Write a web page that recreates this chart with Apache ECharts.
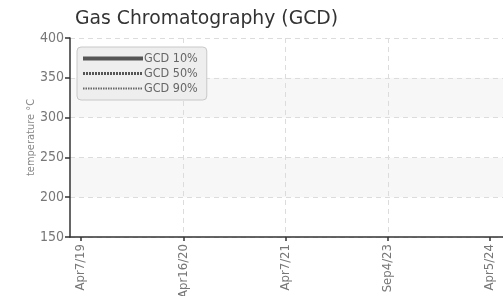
<!DOCTYPE html>
<html>
<head>
<meta charset="utf-8">
<script src="https://cdn.jsdelivr.net/npm/echarts@6/dist/echarts.min.js"></script>
<style>
  html, body { margin: 0; padding: 0; background: #fff; }
  #chart_1 { width: 503px; height: 296px; }
</style>
</head>
<body>
<div id="chart_1"></div>
<script>
// 数据
var categories = ['Apr7/19', 'Apr16/20', 'Apr7/21', 'Sep4/23', 'Apr5/24'];
var seriesNames = ['GCD 10%', 'GCD 50%', 'GCD 90%'];
// no visible points in the picture
var gcd10 = [null, null, null, null, null];
var gcd50 = [null, null, null, null, null];
var gcd90 = [null, null, null, null, null];
var yTicks = [150, 200, 250, 300, 350, 400];

var narrow = '"DejaVu Sans Condensed", "Liberation Sans Narrow", sans-serif';

function toPairs(arr) {
	var out = [];
	for (var i = 0; i < arr.length; i++) {
		out.push([i, arr[i]]);
	}
	return out;
}

var catIdx = [];
for (var i = 0; i < categories.length; i++) {
	catIdx.push(i);
}

var lineStyles = [
	{ color: '#555', width: 4, type: 'solid' },
	{ color: '#555', width: 3, type: [2, 1] },
	{ color: '#666', width: 2, type: [1.5, 1] }
];

var option = {
	animation: false,
	title: {
		text: 'Gas Chromatography (GCD)',
		left: 75,
		top: 10,
		padding: 0,
		textStyle: {
			fontFamily: 'DejaVu Sans',
			fontSize: 18.8,
			fontWeight: 'normal',
			color: '#333'
		}
	},
	legend: {
		orient: 'vertical',
		left: 77,
		top: 47,
		padding: [5, 9, 5, 4],
		backgroundColor: '#eeeeee',
		borderColor: '#c8c8c8',
		borderWidth: 1,
		borderRadius: 4,
		itemWidth: 60,
		itemHeight: 14,
		itemGap: 2,
		itemStyle: { color: 'rgba(0,0,0,0)', borderWidth: 0 },
		data: [
			{ name: seriesNames[0], lineStyle: lineStyles[0] },
			{ name: seriesNames[1], lineStyle: lineStyles[1] },
			{ name: seriesNames[2], lineStyle: lineStyles[2] }
		],
		textStyle: {
			fontFamily: narrow,
			fontSize: 12.5,
			color: '#666',
			padding: [0, 0, 0, -4]
		}
	},
	grid: {
		left: 70,
		right: 0,
		top: 38,
		bottom: 59,
		outerBoundsMode: 'none'
	},
	xAxis: {
		type: 'value',
		min: -0.108,
		max: 4.127,
		axisLine: { lineStyle: { color: '#333', width: 1.5 } },
		axisTick: {
			customValues: catIdx,
			length: 4,
			lineStyle: { color: '#333', width: 1.5 }
		},
		axisLabel: {
			customValues: catIdx,
			rotate: 90,
			margin: 7,
			fontFamily: narrow,
			fontSize: 13,
			color: '#777',
			formatter: function (v) {
				return categories[Math.round(v)];
			}
		},
		splitLine: {
			show: true,
			showMinLine: false,
			showMaxLine: false,
			lineStyle: { color: '#dcdcdc', type: [5, 4] }
		}
	},
	yAxis: {
		type: 'value',
		min: yTicks[0],
		max: yTicks[yTicks.length - 1],
		interval: 50,
		name: 'temperature °C',
		nameLocation: 'middle',
		nameGap: 33,
		nameMoveOverlap: false,
		nameTextStyle: {
			fontFamily: narrow,
			fontSize: 11,
			color: '#888'
		},
		axisLine: { show: true, onZero: false, lineStyle: { color: '#333', width: 1.5 } },
		axisTick: { show: true, length: 5, lineStyle: { color: '#333', width: 1.5 } },
		axisLabel: {
			margin: 6,
			fontFamily: narrow,
			fontSize: 14,
			color: '#777'
		},
		splitLine: {
			show: true,
			lineStyle: { color: '#dcdcdc', type: [5, 4] }
		},
		splitArea: {
			show: true,
			areaStyle: { color: ['#ffffff', '#f7f7f7'] }
		}
	},
	series: [{
		name: seriesNames[0],
		type: 'line',
		symbol: 'none',
		lineStyle: lineStyles[0],
		itemStyle: { color: '#555' },
		data: toPairs(gcd10)
	}, {
		name: seriesNames[1],
		type: 'line',
		symbol: 'none',
		lineStyle: lineStyles[1],
		itemStyle: { color: '#555' },
		data: toPairs(gcd50)
	}, {
		name: seriesNames[2],
		type: 'line',
		symbol: 'none',
		lineStyle: lineStyles[2],
		itemStyle: { color: '#666' },
		data: toPairs(gcd90)
	}]
};

var myChart = echarts.init(document.getElementById('chart_1'));
myChart.setOption(option);
</script>
</body>
</html>
